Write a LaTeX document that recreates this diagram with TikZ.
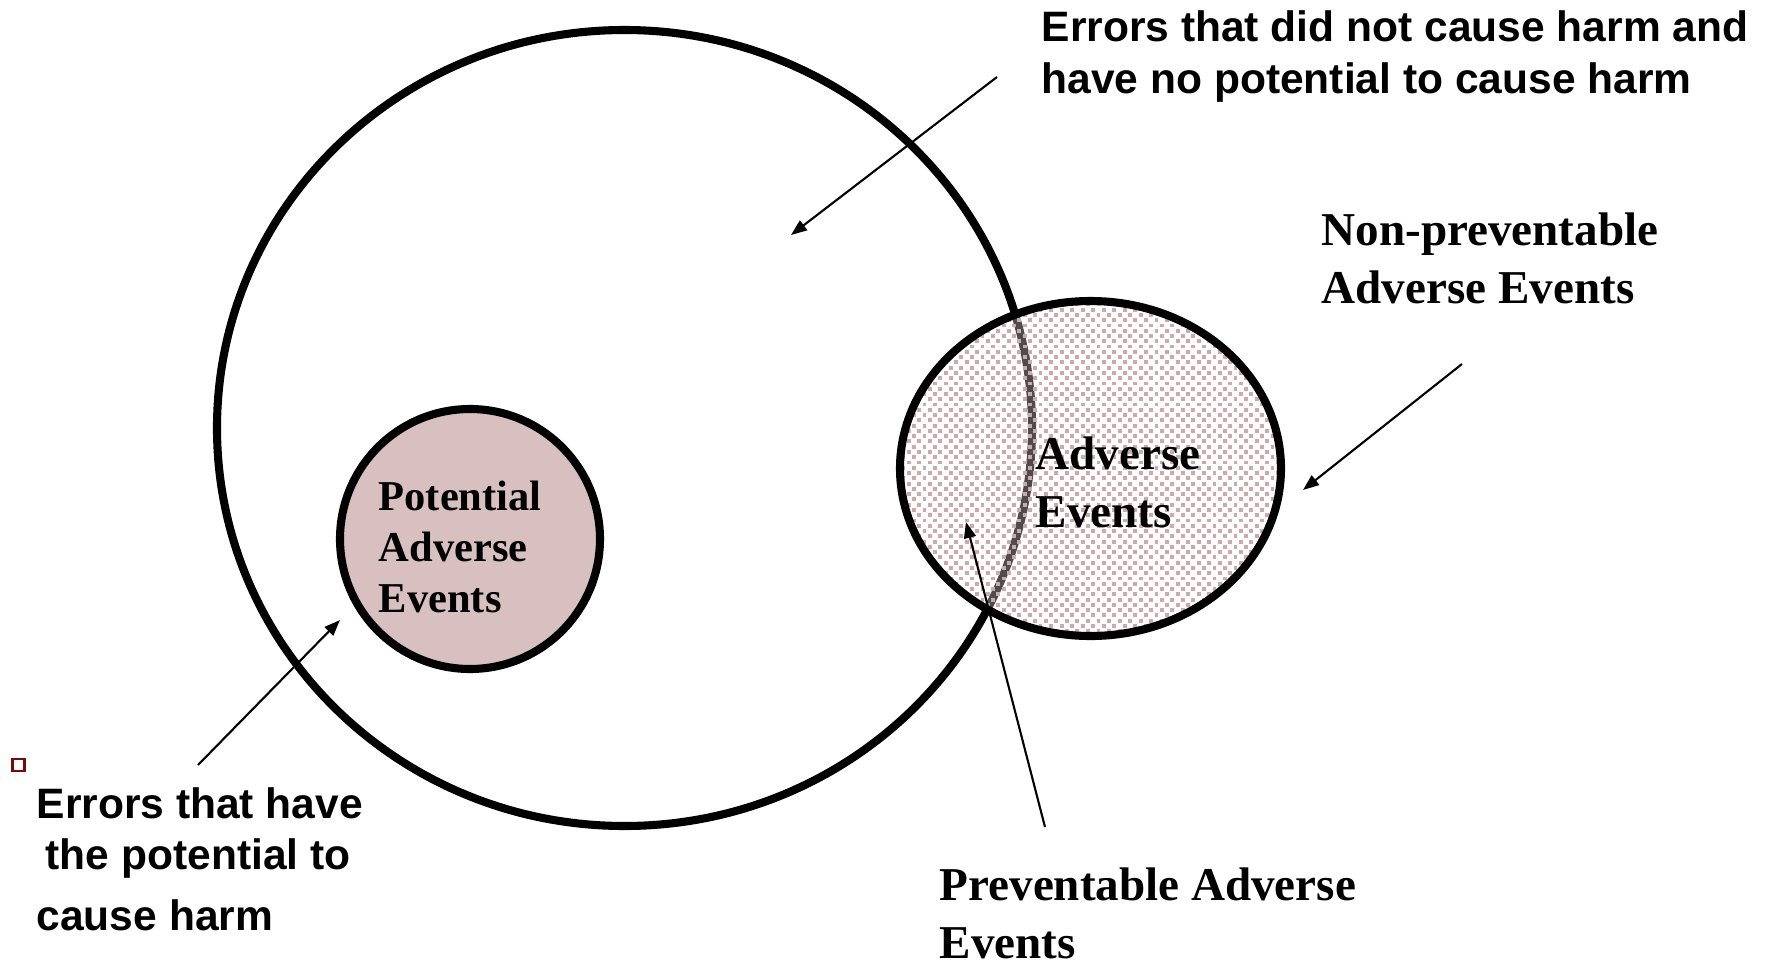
\documentclass[tikz,border=0pt]{standalone}
\usepackage{fontspec}
\setmainfont{Liberation Serif}
\setsansfont{Liberation Sans}
\usetikzlibrary{arrows.meta,shapes.geometric,patterns.meta}

\definecolor{potpink}{RGB}{216,191,192}
\definecolor{dotpink}{RGB}{205,168,172}
\definecolor{bulletred}{RGB}{120,10,10}

\tikzdeclarepattern{
  name=aedots,
  type=uncolored,
  bottom left={(-.1pt,-.1pt)},
  top right={(3.1pt,3.1pt)},
  tile size={(3pt,3pt)},
  code={\fill (0,0) rectangle (1.1pt,1.1pt);
        \fill (1.5pt,1.5pt) rectangle (2.6pt,2.6pt);}
}

\tikzset{
  ring/.style={draw,line width=2.3pt,inner sep=0pt},
  pointer/.style={line width=0.6pt,-{Triangle[length=0.16cm,width=0.12cm]}},
  sanslabel/.style={anchor=north west,inner sep=0pt,align=left,font=\sffamily\bfseries\fontsize{12.1}{14.8}\selectfont},
  seriflabel/.style={anchor=north west,inner sep=0pt,align=left,font=\bfseries\fontsize{13.4}{16.5}\selectfont}
}

\begin{document}
\begin{tikzpicture}
  \useasboundingbox (0,0) rectangle (17.71,9.60);

  % the three sets
  \node[ring,ellipse,minimum width=8.15cm,minimum height=7.96cm] (errors) at (6.245,5.32) {};
  \node[ring,circle,fill=potpink,minimum size=2.60cm] (potential) at (4.70,4.21) {};
  \node[ring,ellipse,minimum width=3.81cm,minimum height=3.35cm,
        preaction={fill=white,fill opacity=.3},pattern=aedots,pattern color=dotpink] (adverse) at (10.905,4.915) {};

  % texts
  \node[seriflabel,font=\bfseries\fontsize{12.1}{14.5}\selectfont] (potlabel) at (3.78,4.80) {Potential\\Adverse\\Events};
  \node[seriflabel] (aelabel) at (10.35,5.24) {Adverse\\Events};
  \node[seriflabel] (nonprev) at (13.21,7.48) {Non-preventable\\Adverse Events};
  \node[seriflabel] (prev) at (9.39,0.93) {Preventable Adverse\\Events};
  \node[sanslabel] (noharm) at (10.41,9.50) {Errors that did not cause harm and\\have no potential to cause harm};
  \node[sanslabel] (harm) at (0.36,1.73) {Errors that have\\[-0.3pt]\hspace{0.09cm}the potential to\\[2.6pt]cause harm};
  \node[draw=bulletred,line width=0.6pt,minimum size=0.12cm,inner sep=0pt] (bullet) at (0.185,1.95) {};

  % arrows
  \coordinate (noharmtail) at (9.97,8.83);
  \coordinate (noharmtip) at (7.91,7.25);
  \coordinate (nonprevtail) at (14.62,5.96);
  \coordinate (nonprevtip) at (13.03,4.70);
  \coordinate (harmtail) at (1.98,1.95);
  \coordinate (harmtip) at (3.40,3.40);
  \coordinate (prevtail) at (10.45,1.33);
  \coordinate (prevtip) at (9.66,4.38);
  \draw[pointer] (noharmtail) -- (noharmtip);
  \draw[pointer] (nonprevtail) -- (nonprevtip);
  \draw[pointer] (harmtail) -- (harmtip);
  \draw[pointer] (prevtail) -- (prevtip);
\end{tikzpicture}
\end{document}
